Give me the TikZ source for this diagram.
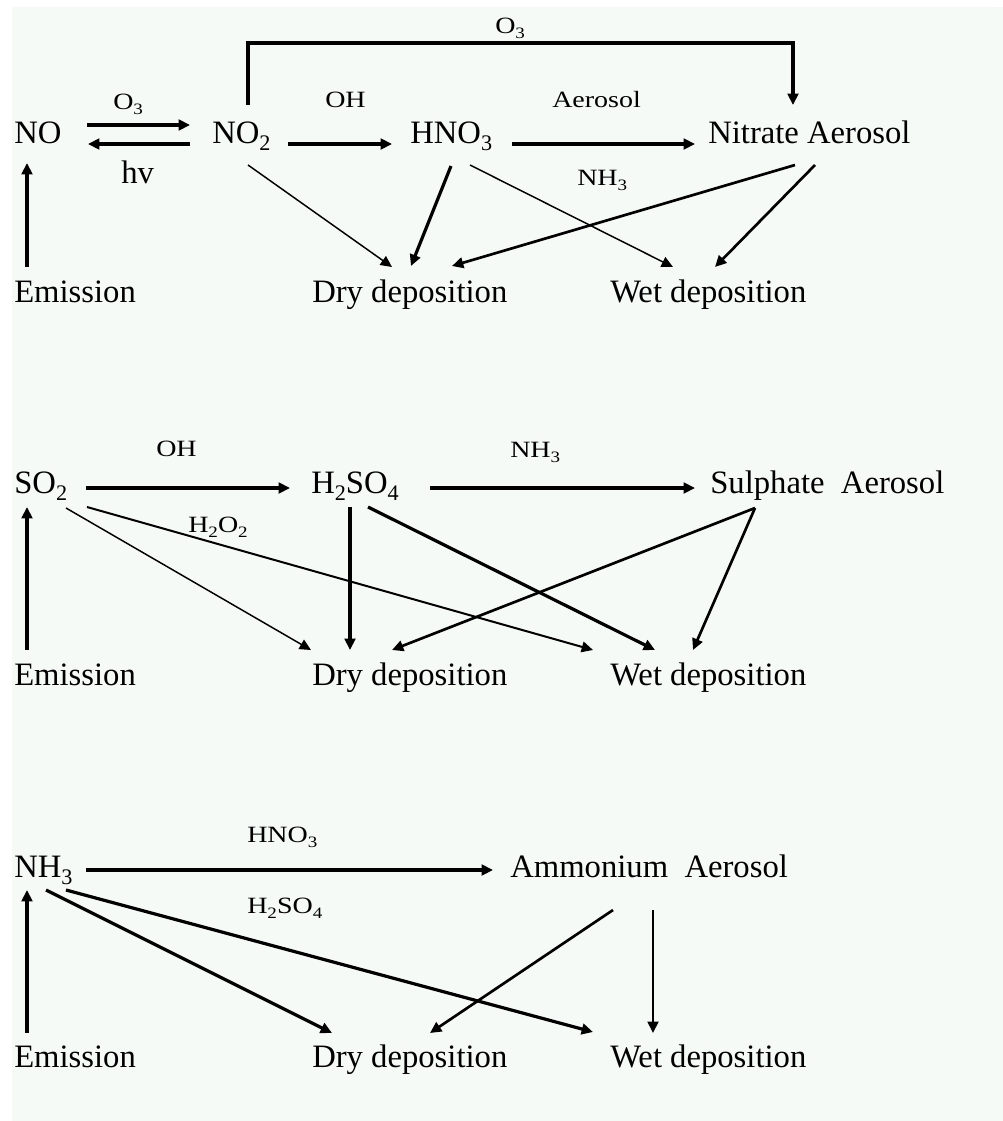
\documentclass[tikz,border=0pt]{standalone}
\usepackage{fontspec}
\setmainfont{Liberation Serif}
\newfontfamily\labfam[FakeStretch=1.2]{Liberation Serif}
\usetikzlibrary{arrows.meta}
\definecolor{bgc}{RGB}{245,250,247}
\newcommand{\mainsz}{\fontsize{24.5pt}{28pt}\selectfont}
\newcommand{\labsz}{\labfam\fontsize{17.5pt}{20pt}\selectfont}
\newcommand{\sbs}[1]{\raisebox{-0.22em}{\scalebox{0.68}{#1}}}
\tikzset{
  main/.style={anchor=base west, inner sep=0pt, font=\mainsz},
  lbl/.style={anchor=base west, inner sep=0pt, font=\labsz},
  arr/.style={-{Triangle[length=8.5pt,width=8pt]}},
  wA/.style={arr, line width=2.8pt},
  wB/.style={arr, line width=2pt},
  wC/.style={arr, line width=1.1pt}
}
\begin{document}
\begin{tikzpicture}[x=0.75pt,y=-0.75pt]
\useasboundingbox (0,0) rectangle (1003,1121);
\fill[bgc] (12,7) rectangle (1003,1121);

% ---------- Row 1 ----------
\node[main] (no)   at (14,143)  {NO};
\node[main] (no2)  at (212,143) {NO\sbs{2}};
\node[main] (hno3) at (410,143) {HNO\sbs{3}};
\node[main] (nitr) at (708,143) {Nitrate Aerosol};
\node[main] (em1)  at (14,302)  {Emission};
\node[main] (dry1) at (312,302) {Dry deposition};
\node[main] (wet1) at (610,302) {Wet deposition};
\node[lbl]  (o3a)  at (113,109) {O\sbs{3}};
\node[main] (hv)   at (121,183) {hv};
\node[lbl]  (o3t)  at (495,33)  {O\sbs{3}};
\node[lbl]  (oh1)  at (325,107) {OH};
\node[lbl]  (aer)  at (552,107) {Aerosol};
\node[lbl]  (nh3a) at (577,185) {NH\sbs{3}};

\draw[wA] ([shift={(73,-18)}]no.base west) -- ([shift={(-22,-18)}]no2.base west);
\draw[wA] ([shift={(-22,1)}]no2.base west) -- ([shift={(74,1)}]no.base west);
\draw[wA] ([shift={(13,-35)}]em1.base west) -- ([shift={(13,20)}]no.base west);
\draw[wA] ([shift={(76,1)}]no2.base west) -- ([shift={(-18,1)}]hno3.base west);
\draw[wA] ([shift={(102,1)}]hno3.base west) -- ([shift={(-13,1)}]nitr.base west);
\draw[wA] ([shift={(36,-38)}]no2.base west) -- ++(0,-62) -| ([shift={(85,-38)}]nitr.base west);
\draw[wC] ([shift={(36,22)}]no2.base west) -- ([shift={(80,-35)}]dry1.base west);
\draw[wA, line width=2.4pt] ([shift={(41,23)}]hno3.base west) -- ([shift={(99,-36)}]dry1.base west);
\draw[wB] ([shift={(87,22)}]nitr.base west) -- ([shift={(140,-36)}]dry1.base west);
\draw[wC] ([shift={(60,22)}]hno3.base west) -- ([shift={(63,-35)}]wet1.base west);
\draw[wB] ([shift={(107,22)}]nitr.base west) -- ([shift={(105,-35)}]wet1.base west);

% ---------- Row 2 ----------
\node[main] (so2)   at (14,493)  {SO\sbs{2}};
\node[main] (h2so4) at (311,493) {H\sbs{2}SO\sbs{4}};
\node[main] (sulph) at (710,493) {Sulphate\hspace{0.5em}Aerosol};
\node[main] (em2)   at (14,685)  {Emission};
\node[main] (dry2)  at (312,685) {Dry deposition};
\node[main] (wet2)  at (610,685) {Wet deposition};
\node[lbl]  (oh2)   at (156,456) {OH};
\node[lbl]  (nh3b)  at (510,457) {NH\sbs{3}};
\node[lbl]  (h2o2)  at (188,532) {H\sbs{2}O\sbs{2}};

\draw[wA] ([shift={(72,-5)}]so2.base west) -- ([shift={(-21,-5)}]h2so4.base west);
\draw[wA] ([shift={(119,-5)}]h2so4.base west) -- ([shift={(-15,-5)}]sulph.base west);
\draw[wA] ([shift={(13,-35)}]em2.base west) -- ([shift={(13,14)}]so2.base west);
\draw[wC] ([shift={(52,15)}]so2.base west) -- ([shift={(-1,-35)}]dry2.base west);
\draw[wC, line width=1.5pt] ([shift={(73,14)}]so2.base west) -- ([shift={(-17,-35)}]wet2.base west);
\draw[wA, line width=2.4pt] ([shift={(39,14)}]h2so4.base west) -- ([shift={(38,-35)}]dry2.base west);
\draw[wA, line width=2.4pt] ([shift={(57,14)}]h2so4.base west) -- ([shift={(45,-35)}]wet2.base west);
\draw[wB] ([shift={(45,15)}]sulph.base west) -- ([shift={(80,-35)}]dry2.base west);
\draw[wB] ([shift={(45,15)}]sulph.base west) -- ([shift={(83,-35)}]wet2.base west);

% ---------- Row 3 ----------
\node[main] (nh3)  at (14,877)   {NH\sbs{3}};
\node[main] (amm)  at (510,877)  {Ammonium\hspace{0.5em}Aerosol};
\node[main] (em3)  at (14,1067)  {Emission};
\node[main] (dry3) at (312,1067) {Dry deposition};
\node[main] (wet3) at (610,1067) {Wet deposition};
\node[lbl]  (hno3c)  at (247,842) {HNO\sbs{3}};
\node[lbl]  (h2so4c) at (247,913) {H\sbs{2}SO\sbs{4}};

\draw[wA] ([shift={(72,-7)}]nh3.base west) -- ([shift={(-17,-7)}]amm.base west);
\draw[wA] ([shift={(13,-34)}]em3.base west) -- ([shift={(13,13)}]nh3.base west);
\draw[wA, line width=2.4pt] ([shift={(32,13)}]nh3.base west) -- ([shift={(20,-34)}]dry3.base west);
\draw[wA, line width=2.4pt] ([shift={(52,13)}]nh3.base west) -- ([shift={(-17,-35)}]wet3.base west);
\draw[wB] ([shift={(103,33)}]amm.base west) -- ([shift={(118,-34)}]dry3.base west);
\draw[wB] ([shift={(143,33)}]amm.base west) -- ([shift={(43,-34)}]wet3.base west);
\end{tikzpicture}
\end{document}
